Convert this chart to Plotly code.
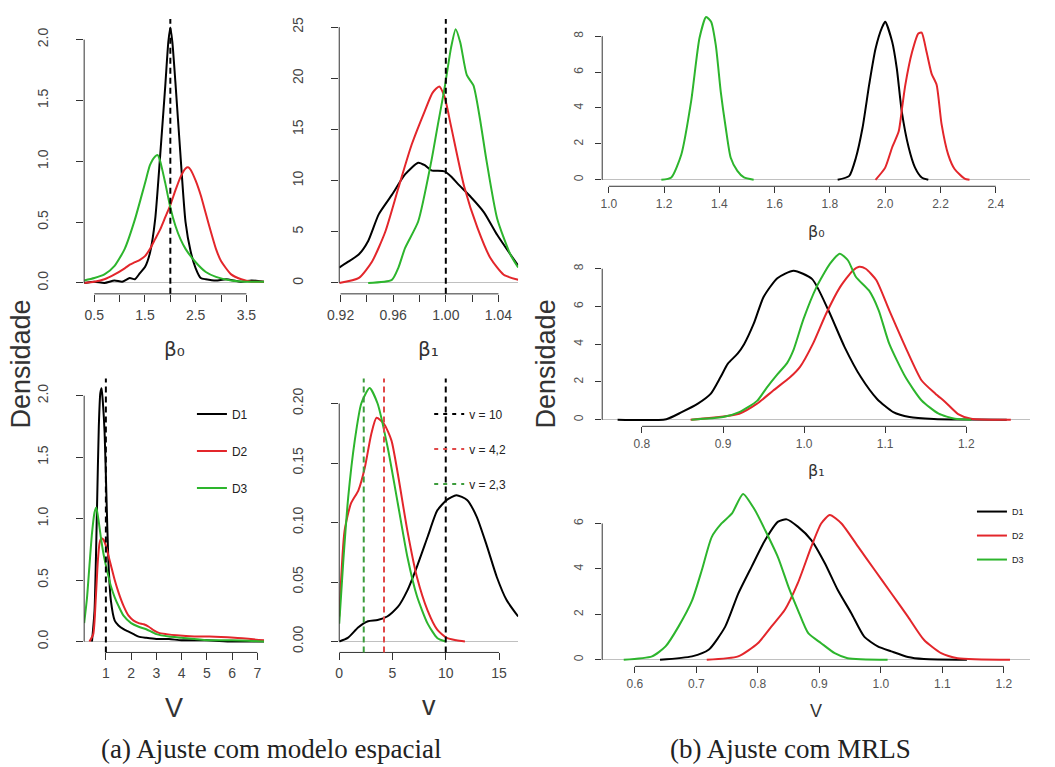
import plotly.graph_objects as go

# ---------------- data ----------------
series_names = ["D1", "D2", "D3"]

# (a) Ajuste com modelo espacial
a_beta0_D1_x = [0.30, 0.5, 0.7, 0.9, 1.05, 1.2, 1.3, 1.4, 1.5, 1.6, 1.7, 1.8, 1.9, 1.96, 2.0, 2.04, 2.1, 2.2, 2.3, 2.4, 2.5, 2.6, 2.7, 2.9, 3.1, 3.4, 3.6, 3.85]
a_beta0_D1_y = [0.00, 0.01, 0.00, 0.02, 0.01, 0.04, 0.03, 0.08, 0.13, 0.25, 0.52, 1.05, 1.62, 1.98, 2.10, 1.98, 1.65, 1.05, 0.50, 0.26, 0.12, 0.04, 0.03, 0.02, 0.03, 0.01, 0.02, 0.01]
a_beta0_D2_x = [0.3, 0.5, 0.7, 0.9, 1.1, 1.2, 1.3, 1.4, 1.5, 1.6, 1.7, 1.8, 1.9, 2.0, 2.1, 2.2, 2.3, 2.35, 2.4, 2.5, 2.6, 2.7, 2.8, 2.9, 3.0, 3.2, 3.4, 3.6, 3.85]
a_beta0_D2_y = [0.0, 0.01, 0.03, 0.07, 0.12, 0.15, 0.17, 0.19, 0.22, 0.28, 0.36, 0.44, 0.54, 0.64, 0.76, 0.87, 0.94, 0.95, 0.93, 0.84, 0.72, 0.57, 0.42, 0.28, 0.18, 0.07, 0.03, 0.01, 0.01]
a_beta0_D3_x = [0.3, 0.5, 0.7, 0.9, 1.1, 1.3, 1.5, 1.6, 1.7, 1.75, 1.8, 1.9, 2.0, 2.1, 2.2, 2.3, 2.5, 2.7, 2.9, 3.2, 3.5, 3.85]
a_beta0_D3_y = [0.02, 0.04, 0.07, 0.14, 0.28, 0.52, 0.82, 0.97, 1.04, 1.05, 1.0, 0.82, 0.62, 0.47, 0.36, 0.28, 0.17, 0.09, 0.05, 0.02, 0.01, 0.01]

a_beta1_D1_x = [0.919, 0.925, 0.934, 0.941, 0.949, 0.959, 0.969, 0.979, 0.984, 0.989, 0.999, 1.004, 1.009, 1.019, 1.029, 1.039, 1.049, 1.055]
a_beta1_D1_y = [1.5, 2.0, 2.8, 4.1, 6.7, 8.6, 10.6, 11.75, 11.5, 11.0, 10.9, 10.4, 9.7, 8.4, 6.9, 4.7, 2.8, 1.7]
a_beta1_D2_x = [0.919, 0.934, 0.944, 0.954, 0.964, 0.974, 0.984, 0.990, 0.995, 0.999, 1.004, 1.014, 1.024, 1.034, 1.044, 1.055]
a_beta1_D2_y = [0.0, 0.5, 2.1, 5.0, 9.3, 13.5, 16.8, 18.6, 19.2, 18.2, 15.3, 9.4, 5.4, 2.4, 0.8, 0.3]
a_beta1_D3_x = [0.941, 0.959, 0.964, 0.969, 0.979, 0.989, 0.994, 0.999, 1.004, 1.0075, 1.011, 1.016, 1.021, 1.026, 1.031, 1.039, 1.049, 1.055]
a_beta1_D3_y = [0.0, 0.3, 1.5, 3.4, 6.0, 11.9, 15.5, 19.0, 23.0, 24.8, 23.5, 20.3, 19.3, 16.0, 11.9, 6.3, 2.8, 1.5]

a_V_D1_x = [0.45, 0.55, 0.65, 0.72, 0.78, 0.83, 0.88, 0.95, 1.02, 1.1, 1.2, 1.35, 1.5, 1.7, 1.9, 2.1, 2.3, 2.6, 3.0, 3.5, 4.0, 5.0, 6.0, 7.27]
a_V_D1_y = [0.0, 0.25, 1.1, 1.75, 2.02, 2.06, 1.95, 1.7, 1.2, 0.65, 0.33, 0.17, 0.13, 0.1, 0.08, 0.06, 0.04, 0.03, 0.02, 0.02, 0.01, 0.01, 0.0, 0.0]
a_V_D2_x = [0.35, 0.5, 0.6, 0.68, 0.75, 0.82, 0.9, 1.0, 1.1, 1.2, 1.35, 1.5, 1.7, 1.9, 2.1, 2.3, 2.5, 2.7, 2.9, 3.1, 3.4, 3.8, 4.5, 5.1, 6.1, 7.27]
a_V_D2_y = [0.0, 0.06, 0.35, 0.65, 0.8, 0.84, 0.83, 0.78, 0.7, 0.62, 0.5, 0.4, 0.29, 0.21, 0.17, 0.15, 0.14, 0.12, 0.09, 0.07, 0.06, 0.05, 0.04, 0.04, 0.03, 0.01]
a_V_D3_x = [0.14, 0.25, 0.35, 0.45, 0.55, 0.62, 0.7, 0.8, 0.9, 1.0, 1.1, 1.2, 1.35, 1.5, 1.7, 2.0, 2.3, 2.6, 3.0, 3.5, 4.0, 5.0, 6.0, 7.27]
a_V_D3_y = [0.15, 0.35, 0.62, 0.88, 1.05, 1.09, 1.0, 0.85, 0.72, 0.62, 0.53, 0.45, 0.36, 0.29, 0.21, 0.15, 0.12, 0.1, 0.06, 0.04, 0.03, 0.01, 0.01, 0.0]

a_v_D1_x = [0, 0.8, 1.8, 2.7, 3.6, 4.5, 5.5, 6.4, 7.3, 8.3, 9.2, 10.1, 11.0, 12.0, 12.9, 13.8, 14.8, 15.7, 16.8]
a_v_D1_y = [0.0, 0.003, 0.012, 0.017, 0.018, 0.021, 0.029, 0.043, 0.063, 0.088, 0.110, 0.119, 0.123, 0.119, 0.105, 0.082, 0.054, 0.035, 0.021]
a_v_D2_x = [0, 0.5, 1.1, 1.8, 2.4, 3.0, 3.5, 4.2, 4.9, 5.5, 6.4, 7.3, 8.3, 9.2, 10.1, 11.0, 11.8]
a_v_D2_y = [0.021, 0.093, 0.116, 0.127, 0.146, 0.174, 0.188, 0.183, 0.169, 0.141, 0.093, 0.054, 0.026, 0.010, 0.003, 0.001, 0.0]
a_v_D3_x = [0, 0.37, 0.84, 1.46, 2.07, 2.85, 3.6, 4.55, 5.5, 6.4, 7.3, 8.3, 9.2, 10.0]
a_v_D3_y = [0.015, 0.066, 0.121, 0.169, 0.200, 0.213, 0.200, 0.163, 0.116, 0.071, 0.038, 0.015, 0.003, 0.0]

a_true_beta0 = 2.0
a_true_beta1 = 1.0
a_true_V = 1.0
a_true_v = [10, 4.2, 2.3]
a_true_v_labels = ["v = 10", "v = 4,2", "v = 2,3"]

# (b) Ajuste com MRLS
b_beta0_D1_x = [1.828, 1.870, 1.894, 1.918, 1.942, 1.965, 1.989, 2.0, 2.025, 2.042, 2.06, 2.085, 2.108, 2.132, 2.156]
b_beta0_D1_y = [0.0, 0.22, 1.23, 2.9, 5.3, 7.3, 8.5, 8.8, 7.7, 6.2, 3.8, 1.8, 0.68, 0.13, 0.0]
b_beta0_D2_x = [1.965, 2.0, 2.025, 2.049, 2.061, 2.073, 2.097, 2.12, 2.132, 2.15, 2.168, 2.186, 2.204, 2.228, 2.251, 2.287, 2.305]
b_beta0_D2_y = [0.0, 0.68, 1.8, 2.7, 4.0, 5.3, 7.1, 8.15, 8.2, 7.1, 5.9, 5.3, 3.1, 1.4, 0.6, 0.07, 0.0]
b_beta0_D3_x = [1.19, 1.226, 1.262, 1.298, 1.328, 1.352, 1.37, 1.387, 1.405, 1.423, 1.441, 1.465, 1.489, 1.524]
b_beta0_D3_y = [0.0, 0.13, 1.4, 4.4, 7.9, 9.07, 8.8, 7.5, 4.9, 2.9, 1.23, 0.5, 0.13, 0.0]

b_beta1_D1_x = [0.77, 0.83, 0.849, 0.869, 0.885, 0.897, 0.906, 0.918, 0.926, 0.938, 0.95, 0.967, 0.987, 1.01, 1.03, 1.05, 1.07, 1.09, 1.11, 1.13, 1.16, 1.2, 1.25]
b_beta1_D1_y = [0.0, 0.03, 0.4, 0.85, 1.38, 2.26, 2.97, 3.5, 4.0, 5.1, 6.5, 7.5, 7.9, 7.45, 5.8, 3.85, 2.26, 1.1, 0.4, 0.14, 0.04, 0.01, 0.0]
b_beta1_D2_x = [0.86, 0.92, 0.942, 0.962, 0.983, 0.995, 1.011, 1.027, 1.044, 1.06, 1.068, 1.076, 1.089, 1.105, 1.125, 1.145, 1.162, 1.174, 1.19, 1.206, 1.255]
b_beta1_D2_y = [0.0, 0.32, 0.85, 1.55, 2.26, 2.8, 4.03, 5.6, 7.0, 7.9, 8.1, 8.0, 7.4, 5.8, 3.85, 2.08, 1.38, 0.94, 0.3, 0.05, 0.0]
b_beta1_D3_x = [0.861, 0.9, 0.92, 0.942, 0.954, 0.967, 0.979, 0.987, 0.999, 1.015, 1.032, 1.044, 1.054, 1.064, 1.08, 1.092, 1.105, 1.125, 1.145, 1.166, 1.186, 1.206]
b_beta1_D3_y = [0.0, 0.14, 0.4, 1.0, 1.7, 2.4, 3.0, 3.7, 5.3, 7.0, 8.27, 8.8, 8.45, 7.56, 6.85, 5.8, 4.03, 2.26, 1.02, 0.32, 0.05, 0.0]

b_V_D1_x = [0.641, 0.693, 0.72, 0.747, 0.768, 0.79, 0.812, 0.833, 0.847, 0.865, 0.887, 0.909, 0.93, 0.952, 0.973, 0.995, 1.017, 1.044, 1.07, 1.14]
b_V_D1_y = [0.0, 0.15, 0.44, 1.46, 2.9, 4.1, 5.27, 6.08, 6.18, 5.86, 5.27, 4.25, 3.07, 2.05, 1.02, 0.59, 0.37, 0.12, 0.03, 0.0]
b_V_D2_x = [0.717, 0.768, 0.8, 0.822, 0.844, 0.865, 0.887, 0.903, 0.917, 0.936, 0.963, 0.99, 1.017, 1.044, 1.07, 1.098, 1.125, 1.21]
b_V_D2_y = [0.0, 0.15, 0.73, 1.46, 2.2, 3.37, 4.98, 6.0, 6.37, 6.0, 4.98, 3.95, 2.93, 1.9, 0.88, 0.29, 0.07, 0.0]
b_V_D3_x = [0.582, 0.628, 0.65, 0.671, 0.693, 0.709, 0.725, 0.741, 0.758, 0.776, 0.795, 0.812, 0.833, 0.85, 0.865, 0.882, 0.903, 0.925, 0.946, 1.011]
b_V_D3_y = [0.0, 0.15, 0.59, 1.46, 2.6, 3.95, 5.4, 6.0, 6.44, 7.3, 6.6, 5.7, 4.5, 3.2, 2.2, 1.17, 0.73, 0.29, 0.07, 0.0]

# tick values / labels ("" = tick without label)
a_beta0_xticks = [0.5, 1.0, 1.5, 2.0, 2.5, 3.0, 3.5]
a_beta0_xlabels = ["0.5", "", "1.5", "", "2.5", "", "3.5"]
a_dens_yticks = [0.0, 0.5, 1.0, 1.5, 2.0]
a_dens_ylabels = ["0.0", "0.5", "1.0", "1.5", "2.0"]
a_beta1_xticks = [0.92, 0.94, 0.96, 0.98, 1.00, 1.02, 1.04]
a_beta1_xlabels = ["0.92", "", "0.96", "", "1.00", "", "1.04"]
a_beta1_yticks = [0, 5, 10, 15, 20, 25]
a_V_xticks = [1, 2, 3, 4, 5, 6, 7]
a_v_xticks = [0, 5, 10, 15]
a_v_yticks = [0.00, 0.05, 0.10, 0.15, 0.20]
a_v_ylabels = ["0.00", "0.05", "0.10", "0.15", "0.20"]
b_beta0_xticks = [1.0, 1.2, 1.4, 1.6, 1.8, 2.0, 2.2, 2.4]
b_beta1_xticks = [0.8, 0.9, 1.0, 1.1, 1.2]
b_V_xticks = [0.6, 0.7, 0.8, 0.9, 1.0, 1.1, 1.2]
b_dens_yticks_8 = [0, 2, 4, 6, 8]
b_dens_yticks_6 = [0, 2, 4, 6]

# ---------------- styling / layout ----------------
W, H = 1055, 767
COLORS = ["#000000", "#e3262b", "#2db52d"]
FONT = "Liberation Sans, Arial, sans-serif"
GREEK_FONT = "DejaVu Sans, Liberation Sans, sans-serif"
AXC = "#333333"


def fmt(v, nd):
    return f"{v:.{nd}f}"


panels = [
    dict(box=(73, 255, 17, 293), xr=[0.30, 3.85], yr=[-0.09, 2.17],
         curves=[(a_beta0_D1_x, a_beta0_D1_y), (a_beta0_D2_x, a_beta0_D2_y), (a_beta0_D3_x, a_beta0_D3_y)],
         xt=a_beta0_xticks, xtl=a_beta0_xlabels, yt=a_dens_yticks, ytl=a_dens_ylabels,
         title="β₀", tsize=20, tshift=-55, big=True, legend=None, tfont=GREEK_FONT),
    dict(box=(331, 512, 17, 293), xr=[0.919, 1.055], yr=[-1.07, 25.8],
         curves=[(a_beta1_D1_x, a_beta1_D1_y), (a_beta1_D2_x, a_beta1_D2_y), (a_beta1_D3_x, a_beta1_D3_y)],
         xt=a_beta1_xticks, xtl=a_beta1_xlabels, yt=a_beta1_yticks, ytl=[str(v) for v in a_beta1_yticks],
         title="β₁", tsize=20, tshift=-55, big=True, legend=None, tfont=GREEK_FONT),
    dict(box=(73, 255, 378, 653), xr=[0.14, 7.27], yr=[-0.089, 2.14],
         curves=[(a_V_D1_x, a_V_D1_y), (a_V_D2_x, a_V_D2_y), (a_V_D3_x, a_V_D3_y)],
         xt=a_V_xticks, xtl=[str(v) for v in a_V_xticks], yt=a_dens_yticks, ytl=a_dens_ylabels,
         title="V", tsize=27, tshift=-56, big=True, legend="legend", tfont=FONT),
    dict(box=(331, 512, 378, 653), xr=[0.0, 16.8], yr=[-0.0092, 0.221],
         curves=[(a_v_D1_x, a_v_D1_y), (a_v_D2_x, a_v_D2_y), (a_v_D3_x, a_v_D3_y)],
         xt=a_v_xticks, xtl=[str(v) for v in a_v_xticks], yt=a_v_yticks, ytl=a_v_ylabels,
         title="v", tsize=27, tshift=-54, big=True, legend=None, tfont=FONT),
    dict(box=(597, 1030, 8, 185), xr=[0.976, 2.525], yr=[-0.36, 9.46],
         curves=[(b_beta0_D1_x, b_beta0_D1_y), (b_beta0_D2_x, b_beta0_D2_y), (b_beta0_D3_x, b_beta0_D3_y)],
         xt=b_beta0_xticks, xtl=[fmt(v, 1) for v in b_beta0_xticks], yt=b_dens_yticks_8, ytl=[str(v) for v in b_dens_yticks_8],
         title="β₀", tsize=16, tshift=-45, big=False, legend=None, tfont=GREEK_FONT),
    dict(box=(597, 1030, 246, 426), xr=[0.751, 1.279], yr=[-0.35, 9.15],
         curves=[(b_beta1_D1_x, b_beta1_D1_y), (b_beta1_D2_x, b_beta1_D2_y), (b_beta1_D3_x, b_beta1_D3_y)],
         xt=b_beta1_xticks, xtl=[fmt(v, 1) for v in b_beta1_xticks], yt=b_dens_yticks_8, ytl=[str(v) for v in b_dens_yticks_8],
         title="β₁", tsize=16, tshift=-44, big=False, legend=None, tfont=GREEK_FONT),
    dict(box=(597, 1030, 487, 667), xr=[0.547, 1.243], yr=[-0.29, 7.6],
         curves=[(b_V_D1_x, b_V_D1_y), (b_V_D2_x, b_V_D2_y), (b_V_D3_x, b_V_D3_y)],
         xt=b_V_xticks, xtl=[fmt(v, 1) for v in b_V_xticks], yt=b_dens_yticks_6, ytl=[str(v) for v in b_dens_yticks_6],
         title="V", tsize=18, tshift=-45, big=False, legend="legend3", tfont=FONT),
]

fig = go.Figure()
layout = dict(
    width=W, height=H, margin=dict(l=0, r=0, t=0, b=0),
    paper_bgcolor="white", plot_bgcolor="white",
    font=dict(family=FONT, color="#222222"),
    showlegend=True,
    shapes=[], annotations=[],
)

for i, p in enumerate(panels):
    n = "" if i == 0 else str(i + 1)
    xa, ya = "x" + n, "y" + n
    x0, x1, y0, y1 = p["box"]
    tfs = 14 if p["big"] else 12
    tcol = "#444444" if p["big"] else "#555555"
    tlen = 7 if p["big"] else 6
    major_v = [v for v, t in zip(p["xt"], p["xtl"]) if t]
    major_t = [t for t in p["xtl"] if t]
    minor_v = [v for v, t in zip(p["xt"], p["xtl"]) if not t]
    xaxis = dict(
        domain=[x0 / W, x1 / W], range=p["xr"], anchor=ya, showgrid=False, zeroline=False,
        showline=False, ticks="outside", ticklen=tlen, tickwidth=1, tickcolor=AXC,
        tickmode="array", tickvals=major_v, ticktext=major_t,
        tickfont=dict(size=tfs, color=tcol, family=FONT), ticklabelstandoff=1 if p["big"] else 0,
        fixedrange=True,
    )
    if minor_v:
        xaxis["minor"] = dict(tickmode="array", tickvals=minor_v, ticks="outside", ticklen=tlen,
                              tickwidth=1, tickcolor=AXC, showgrid=False)
    layout["xaxis" + n] = xaxis
    layout["yaxis" + n] = dict(
        domain=[1 - y1 / H, 1 - y0 / H], range=p["yr"], anchor=xa, showgrid=False,
        zeroline=True, zerolinecolor="#c0c0c0", zerolinewidth=1,
        showline=False, ticks="outside", ticklen=tlen, tickwidth=1, tickcolor=AXC,
        tickmode="array", tickvals=p["yt"], ticktext=p["ytl"], tickangle=-90,
        tickfont=dict(size=tfs, color=tcol, family=FONT), ticklabelstandoff=23 if p["big"] else 7,
        fixedrange=True,
    )
    # R-style axis lines running from first to last tick
    layout["shapes"].append(dict(type="line", xref=xa, yref=ya + " domain",
                                 x0=p["xt"][0], x1=p["xt"][-1], y0=0, y1=0,
                                 line=dict(color=AXC, width=1)))
    layout["shapes"].append(dict(type="line", xref=xa + " domain", yref=ya,
                                 x0=0, x1=0, y0=p["yt"][0], y1=p["yt"][-1],
                                 line=dict(color=AXC, width=1)))
    # density curves
    for k, (cx, cy) in enumerate(p["curves"]):
        show = p["legend"] is not None
        fig.add_trace(go.Scatter(
            x=cx, y=cy, mode="lines", name=series_names[k],
            line=dict(color=COLORS[k], width=2, shape="spline", smoothing=0.6),
            xaxis=xa, yaxis=ya, showlegend=show,
            legend=p["legend"] if show else None,
            legendgroup=(p["legend"] or "") + series_names[k] if show else None,
            hoverinfo="skip",
        ))
    # axis title
    layout["annotations"].append(dict(
        text=p["title"], xref=xa + " domain", yref=ya + " domain", x=0.5, y=0,
        yshift=p["tshift"], showarrow=False, xanchor="center", yanchor="middle",
        font=dict(size=p["tsize"], color="#333333", family=p["tfont"])))

# true-value dashed reference lines, panel (a)
dash = "6px,4px"
for xa, ya, val in [("x", "y", a_true_beta0), ("x2", "y2", a_true_beta1), ("x3", "y3", a_true_V)]:
    layout["shapes"].append(dict(type="line", xref=xa, yref=ya + " domain", x0=val, x1=val, y0=0, y1=1,
                                 line=dict(color="#000000", width=2, dash=dash)))
v_line_colors = ["#000000", "#e04848", "#3c9c3c"]
for k, val in enumerate(a_true_v):
    layout["shapes"].append(dict(type="line", xref="x4", yref="y4 domain", x0=val, x1=val, y0=0, y1=1,
                                 line=dict(color=v_line_colors[k], width=2, dash=dash)))
    fig.add_trace(go.Scatter(
        x=[None], y=[None], mode="lines", name=a_true_v_labels[k],
        line=dict(color=v_line_colors[k], width=2, dash="4px,5px"),
        xaxis="x4", yaxis="y4", legend="legend2", legendgroup="v" + str(k), showlegend=True,
    ))

legend_common = dict(bgcolor="rgba(0,0,0,0)", borderwidth=0, xanchor="left", yanchor="top",
                     orientation="v", itemclick=False, itemdoubleclick=False)
layout["legend"] = dict(legend_common, x=182 / W, y=1 - 399 / H, tracegroupgap=18,
                        font=dict(size=12, color="#222222", family=FONT))
layout["legend2"] = dict(legend_common, x=422 / W, y=1 - 399 / H, tracegroupgap=16,
                         font=dict(size=12, color="#222222", family=FONT))
layout["legend3"] = dict(legend_common, x=971 / W, y=1 - 497 / H, tracegroupgap=5,
                         font=dict(size=9, color="#222222", family=FONT))

# y-axis label "Densidade" for each column
for xc in (9, 540):
    layout["annotations"].append(dict(
        text="Densidade", xref="paper", yref="paper", x=xc / W, y=1 - 363 / H,
        textangle=-90, showarrow=False, xanchor="center", yanchor="middle",
        font=dict(size=27, color="#333333", family=FONT)))

# sub-figure captions
for txt, xc in [("(a) Ajuste com modelo espacial", 262), ("(b) Ajuste com MRLS", 787)]:
    layout["annotations"].append(dict(
        text=txt, xref="paper", yref="paper", x=xc / W, y=1 - 750 / H,
        showarrow=False, xanchor="center", yanchor="middle",
        font=dict(size=27, color="#222222", family="Liberation Serif, Times New Roman, serif")))

fig.update_layout(**layout)
fig.write_html("out.html")
